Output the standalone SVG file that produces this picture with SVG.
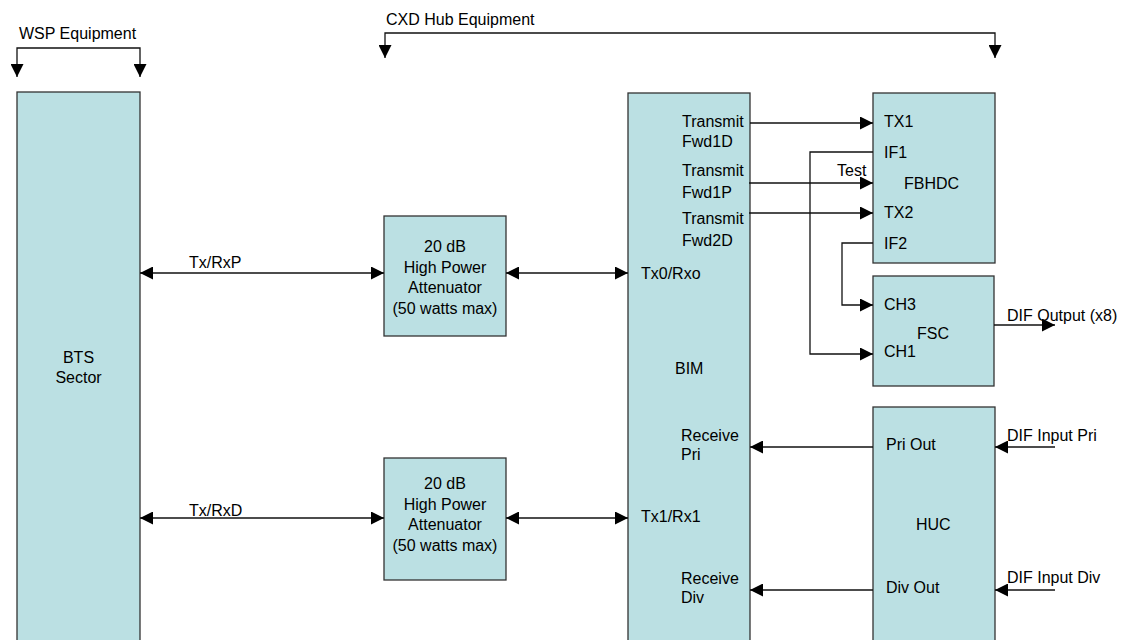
<svg xmlns="http://www.w3.org/2000/svg" width="1138" height="640" viewBox="0 0 1138 640">
<defs>
<style>
.box{fill:#bbe0e3;stroke:#333;stroke-width:1.3}
.t{font-family:"Liberation Sans",Arial,sans-serif;font-size:16px;fill:#000}
.m{text-anchor:middle}
.c{fill:none;stroke:#111;stroke-width:1.3}
</style>
<marker id="ah" markerUnits="userSpaceOnUse" viewBox="0 0 13 13" refX="13" refY="6.5" markerWidth="13" markerHeight="13" orient="auto-start-reverse">
<path d="M0,0 L13,6.5 L0,13 z" fill="#000"/>
</marker>
</defs>
<rect width="1138" height="640" fill="#fff"/>
<g id="labels">
<text class="t" x="19" y="39">WSP Equipment</text>
<text class="t" x="386" y="25">CXD Hub Equipment</text>
<text class="t" x="189" y="268">Tx/RxP</text>
<text class="t" x="189" y="516">Tx/RxD</text>
<text class="t" x="837" y="176">Test</text>
<text class="t" x="1007" y="321">DIF Output (x8)</text>
<text class="t" x="1007" y="441">DIF Input Pri</text>
<text class="t" x="1007" y="583">DIF Input Div</text>
</g>
<g id="bts">
<rect class="box" x="17" y="92" width="123" height="560"/>
<text class="t m" x="78.5" y="363">BTS</text>
<text class="t m" x="78.5" y="383">Sector</text>
</g>
<g id="att1">
<rect class="box" x="384" y="216" width="122" height="120"/>
<text class="t m" x="445" y="252">20 dB</text>
<text class="t m" x="445" y="272.5">High Power</text>
<text class="t m" x="445" y="293">Attenuator</text>
<text class="t m" x="445" y="313.5">(50 watts max)</text>
</g>
<g id="att2">
<rect class="box" x="384" y="458" width="122" height="122"/>
<text class="t m" x="445" y="489">20 dB</text>
<text class="t m" x="445" y="509.5">High Power</text>
<text class="t m" x="445" y="530">Attenuator</text>
<text class="t m" x="445" y="550.5">(50 watts max)</text>
</g>
<g id="bim">
<rect class="box" x="628" y="93" width="122" height="560"/>
<text class="t" x="682" y="127">Transmit</text>
<text class="t" x="682" y="147">Fwd1D</text>
<text class="t" x="682" y="176">Transmit</text>
<text class="t" x="682" y="198">Fwd1P</text>
<text class="t" x="682" y="224">Transmit</text>
<text class="t" x="682" y="246">Fwd2D</text>
<text class="t" x="641" y="279">Tx0/Rxo</text>
<text class="t" x="675" y="374">BIM</text>
<text class="t" x="681" y="441">Receive</text>
<text class="t" x="681" y="460">Pri</text>
<text class="t" x="641" y="522">Tx1/Rx1</text>
<text class="t" x="681" y="584">Receive</text>
<text class="t" x="681" y="603">Div</text>
</g>
<g id="fbhdc">
<rect class="box" x="873" y="93" width="122" height="170"/>
<text class="t" x="884" y="127">TX1</text>
<text class="t" x="884" y="158">IF1</text>
<text class="t" x="904" y="189">FBHDC</text>
<text class="t" x="884" y="218">TX2</text>
<text class="t" x="884" y="249">IF2</text>
</g>
<g id="fsc">
<rect class="box" x="873" y="276" width="121" height="110"/>
<text class="t" x="884" y="310">CH3</text>
<text class="t" x="917" y="339">FSC</text>
<text class="t" x="884" y="357">CH1</text>
</g>
<g id="huc">
<rect class="box" x="873" y="407" width="122" height="245"/>
<text class="t" x="886" y="450">Pri Out</text>
<text class="t" x="916" y="530">HUC</text>
<text class="t" x="886" y="593">Div Out</text>
</g>
<g id="connectors">
<path class="c" d="M17,77 V48 H140 V77" marker-start="url(#ah)" marker-end="url(#ah)"/>
<path class="c" d="M385,58 V33 H995 V58" marker-start="url(#ah)" marker-end="url(#ah)"/>
<path class="c" d="M140,273 H384" marker-start="url(#ah)" marker-end="url(#ah)"/>
<path class="c" d="M506,273 H628" marker-start="url(#ah)" marker-end="url(#ah)"/>
<path class="c" d="M140,518 H384" marker-start="url(#ah)" marker-end="url(#ah)"/>
<path class="c" d="M506,518 H628" marker-start="url(#ah)" marker-end="url(#ah)"/>
<path class="c" d="M750,123 H873" marker-end="url(#ah)"/>
<path class="c" d="M749,183 H873" marker-end="url(#ah)"/>
<path class="c" d="M749,213 H873" marker-end="url(#ah)"/>
<path class="c" d="M873,152 H810 V354 H873" marker-end="url(#ah)"/>
<path class="c" d="M873,243 H842 V305 H873" marker-end="url(#ah)"/>
<path class="c" d="M994,325 H1055" marker-end="url(#ah)"/>
<path class="c" d="M873,447 H750" marker-end="url(#ah)"/>
<path class="c" d="M873,590 H750" marker-end="url(#ah)"/>
<path class="c" d="M1055,447 H995" marker-end="url(#ah)"/>
<path class="c" d="M1055,590 H995" marker-end="url(#ah)"/>
</g>
</svg>
